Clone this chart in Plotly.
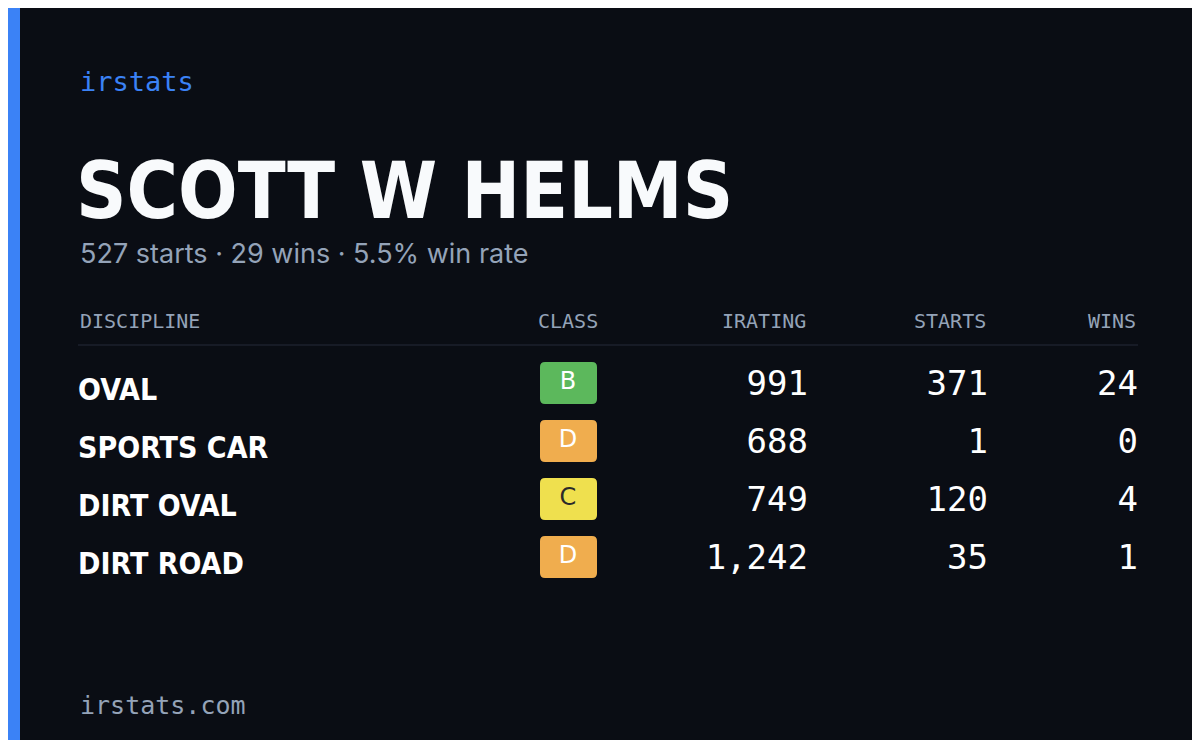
import plotly.graph_objects as go

# Card data
driver = "SCOTT W HELMS"
summary = "527 starts · 29 wins · 5.5% win rate"
headers = ["DISCIPLINE", "CLASS", "IRATING", "STARTS", "WINS"]
disciplines = ["OVAL", "SPORTS CAR", "DIRT OVAL", "DIRT ROAD"]
classes = ["B", "D", "C", "D"]
iratings = [991, 688, 749, 1242]
starts = [371, 1, 120, 35]
wins = [24, 0, 4, 1]

class_colors = {"B": "#5cb85c", "C": "#efe04e", "D": "#f0ad4e"}

BG = "#0a0d14"
MUTED = "#94a3b8"
MONO = "DejaVu Sans Mono"
COND = "DejaVu Sans Condensed"

row_y = [378 + 58 * i for i in range(len(disciplines))]

fig = go.Figure()

# rounded class badges
shapes = []
for y, c in zip(row_y, classes):
    x0, x1, y0, y1, r = 532, 589, y - 24, y + 18, 5
    path = (f"M{x0+r},{y0} L{x1-r},{y0} Q{x1},{y0} {x1},{y0+r} L{x1},{y1-r} "
            f"Q{x1},{y1} {x1-r},{y1} L{x0+r},{y1} Q{x0},{y1} {x0},{y1-r} "
            f"L{x0},{y0+r} Q{x0},{y0} {x0+r},{y0} Z")
    shapes.append(dict(type="path", path=path, fillcolor=class_colors[c],
                       line=dict(width=0), layer="below"))
shapes.append(dict(type="rect", x0=0, x1=12, y0=0, y1=740,
                   fillcolor="#3b82f6", line=dict(width=0)))
shapes.append(dict(type="line", x0=70, x1=1130, y0=337, y1=337,
                   line=dict(color="#1c212c", width=1.5)))

fig.add_trace(go.Scatter(
    x=[560] * len(classes), y=[y - 3 for y in row_y], text=classes, mode="text",
    textfont=dict(family="DejaVu Sans", size=24, color="#ffffff"),
    hoverinfo="skip"))
# dark text on yellow C badge
for i, c in enumerate(classes):
    if c == "C":
        fig.data[0].textfont.color = ["#2a2a2a" if k == "C" else "#ffffff" for k in classes]

fig.add_trace(go.Scatter(
    x=[70] * len(disciplines), y=[y + 6 for y in row_y], text=disciplines,
    mode="text", textposition="middle right",
    textfont=dict(family=COND, size=30, color="#ffffff", weight="bold"),
    hoverinfo="skip"))

for xr, vals in [(800, iratings), (980, starts), (1130, wins)]:
    fig.add_trace(go.Scatter(
        x=[xr] * len(vals), y=row_y, text=[f"{v:,}" for v in vals],
        mode="text", textposition="middle left",
        textfont=dict(family=MONO, size=34, color="#ffffff"),
        hoverinfo="skip"))

ann = [
    dict(x=70, y=73, text="irstats", xanchor="left",
         font=dict(family=MONO, size=27, color="#3b82f6")),
    dict(x=66, y=183, text=f"<b>{driver}</b>", xanchor="left",
         font=dict(family=COND, size=78, color="#f8fafc")),
    dict(x=70, y=245, text=summary, xanchor="left",
         font=dict(family="Inter", size=27, color=MUTED)),
    dict(x=70, y=697, text="irstats.com", xanchor="left",
         font=dict(family=MONO, size=25, color=MUTED)),
]
hx = [(70, "left"), (560, "center"), (800, "right"), (980, "right"), (1130, "right")]
for (x, anc), h in zip(hx, headers):
    ann.append(dict(x=x, y=313, text=h, xanchor=anc,
                    font=dict(family=MONO, size=20, color=MUTED)))
for a in ann:
    a.update(showarrow=False, yanchor="middle", xref="x", yref="y")

fig.update_layout(
    width=1200, height=740, margin=dict(l=0, r=0, t=0, b=0),
    paper_bgcolor=BG, plot_bgcolor=BG, showlegend=False,
    xaxis=dict(range=[0, 1200], visible=False, fixedrange=True),
    yaxis=dict(range=[740, 0], visible=False, fixedrange=True),
    shapes=shapes, annotations=ann,
)

fig.write_html("out.html", config={"displayModeBar": False})
